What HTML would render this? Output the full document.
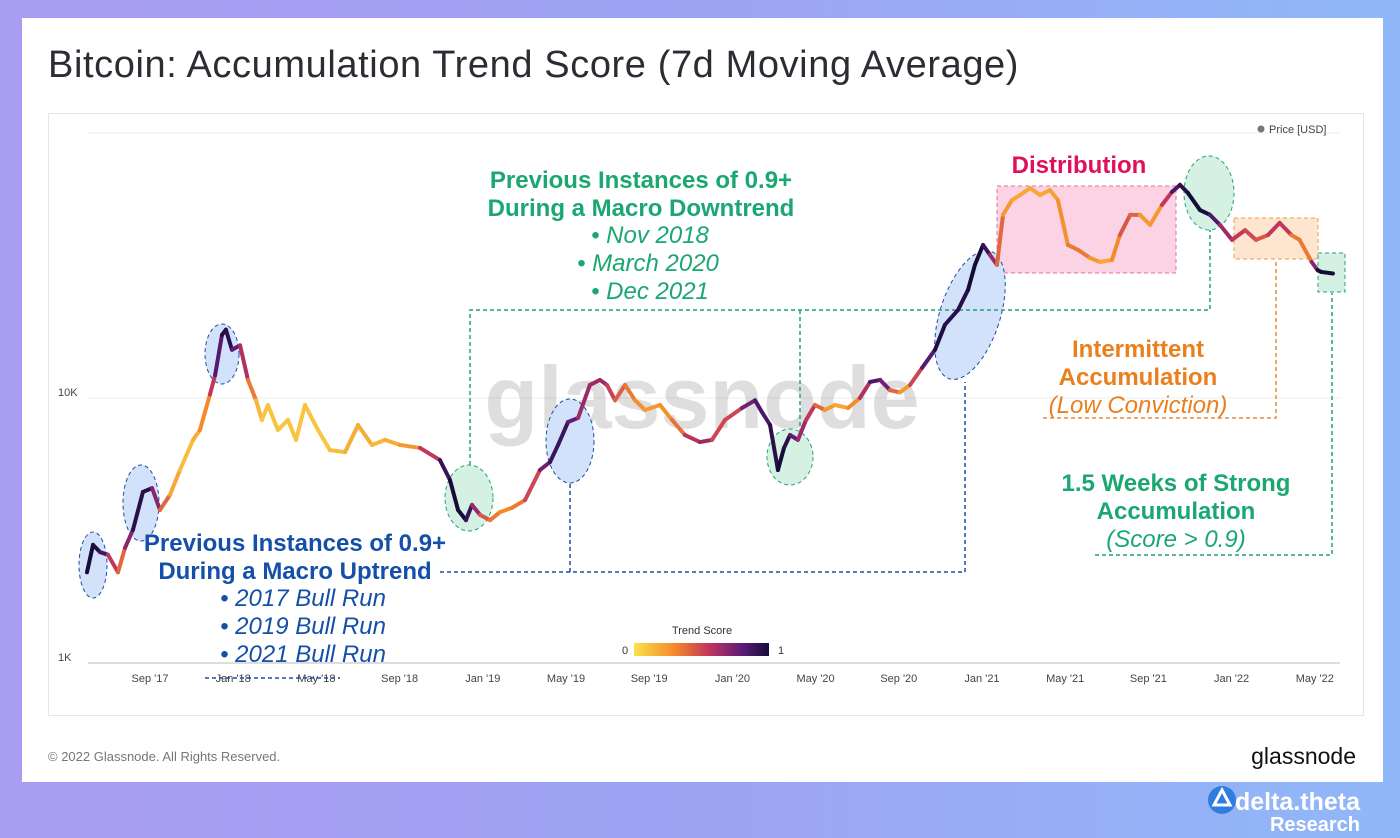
<!DOCTYPE html>
<html><head><meta charset="utf-8">
<style>
body{margin:0;width:1400px;height:838px;overflow:hidden;background:linear-gradient(90deg,#a99cf3 0%,#9ea3f4 50%,#90b8f8 100%);font-family:"Liberation Sans",sans-serif;}
#card{position:absolute;left:22px;top:18px;width:1361px;height:764px;background:#fff;}
svg{position:absolute;left:0;top:0;}
</style></head><body>
<div id="card"></div>
<svg id="chart" width="1400" height="838">
<text x="48" y="77" font-size="38" letter-spacing="0.6" fill="#2b2d33">Bitcoin: Accumulation Trend Score (7d Moving Average)</text>
<rect x="48.5" y="113.5" width="1315" height="602" fill="none" stroke="#e6e6e6"/>
<g id="grid"></g>
<text x="702" y="428" font-size="88" font-weight="bold" fill="#000" fill-opacity="0.13" text-anchor="middle">glassnode</text>
<g id="annot-back">
<rect x="997" y="186" width="179" height="87" fill="#fbd3e4" stroke="#e0709a" stroke-dasharray="4,3"/>
<rect x="1234" y="218" width="84" height="41" fill="#fde5d0" stroke="#ea9a55" stroke-dasharray="4,3"/>
<rect x="1318" y="253" width="27" height="39" fill="#d4f1e3" stroke="#27a07a" stroke-dasharray="4,3"/>
<ellipse cx="93" cy="565" rx="14" ry="33" fill="#d3e2fb" stroke="#1d4ea0" stroke-dasharray="4,3"/>
<ellipse cx="141" cy="503" rx="18" ry="38" fill="#d3e2fb" stroke="#1d4ea0" stroke-dasharray="4,3"/>
<ellipse cx="222" cy="354" rx="17" ry="30" fill="#d3e2fb" stroke="#1d4ea0" stroke-dasharray="4,3"/>
<ellipse cx="469" cy="498" rx="24" ry="33" fill="#d4f1e3" stroke="#27a07a" stroke-dasharray="4,3"/>
<ellipse cx="570" cy="441" rx="24" ry="42" fill="#d3e2fb" stroke="#1d4ea0" stroke-dasharray="4,3"/>
<ellipse cx="790" cy="457" rx="23" ry="28" fill="#d4f1e3" stroke="#27a07a" stroke-dasharray="4,3"/>
<ellipse cx="970" cy="315" rx="30" ry="67" transform="rotate(18 970 315)" fill="#d3e2fb" stroke="#1d4ea0" stroke-dasharray="4,3"/>
<ellipse cx="1209" cy="193" rx="25" ry="37" fill="#d4f1e3" stroke="#27a07a" stroke-dasharray="4,3"/>
</g>
<g fill="none" stroke-width="1.5" stroke-dasharray="4,3">
<path d="M470 465V310H1210V230M800 310V430" stroke="#27a07a"/>
<path d="M440 572H965V382M570 572V483" stroke="#1d4ea0"/>
<path d="M1043 418H1276V260" stroke="#ea8a3a"/>
<path d="M1095 555H1332V293" stroke="#27a07a"/>
<path d="M205 678H340" stroke="#1d4ea0"/>
</g>
<g id="series"></g>
<g font-size="24" text-anchor="middle">
<text x="641" y="188" font-weight="bold" fill="#1aa772"><tspan x="641">Previous Instances of 0.9+</tspan><tspan x="641" dy="28">During a Macro Downtrend</tspan></text>
<text x="650" y="243" font-style="italic" fill="#1aa772"><tspan x="650">• Nov 2018</tspan><tspan x="648" dy="28">• March 2020</tspan><tspan x="650" dy="28">• Dec 2021</tspan></text>
<text x="1079" y="173" font-weight="bold" fill="#e0105a">Distribution</text>
<text x="1138" y="357" font-weight="bold" fill="#ea7f1e"><tspan x="1138">Intermittent</tspan><tspan x="1138" dy="28">Accumulation</tspan></text>
<text x="1138" y="413" font-style="italic" fill="#ea7f1e">(Low Conviction)</text>
<text x="1176" y="491" font-weight="bold" fill="#1aa772"><tspan x="1176">1.5 Weeks of Strong</tspan><tspan x="1176" dy="28">Accumulation</tspan></text>
<text x="1176" y="547" font-style="italic" fill="#1aa772">(Score &gt; 0.9)</text>
<text x="295" y="551" font-weight="bold" fill="#1550a8"><tspan x="295">Previous Instances of 0.9+</tspan><tspan x="295" dy="28">During a Macro Uptrend</tspan></text>
<text x="303" y="606" font-style="italic" fill="#1550a8"><tspan x="303">• 2017 Bull Run</tspan><tspan x="303" dy="28">• 2019 Bull Run</tspan><tspan x="303" dy="28">• 2021 Bull Run</tspan></text>
</g>
<circle cx="1261" cy="129" r="3.5" fill="#777"/>
<text x="1269" y="133" font-size="11" fill="#444">Price [USD]</text>
<defs><linearGradient id="cb"><stop offset="0" stop-color="#fbe14a"/><stop offset="0.3" stop-color="#f48a2a"/><stop offset="0.55" stop-color="#c3365c"/><stop offset="0.8" stop-color="#5e1b78"/><stop offset="1" stop-color="#150d38"/></linearGradient></defs>
<text x="702" y="634" font-size="11" fill="#333" text-anchor="middle">Trend Score</text>
<rect x="634" y="643" width="135" height="13" fill="url(#cb)"/>
<text x="622" y="654" font-size="11" fill="#333">0</text>
<text x="778" y="654" font-size="11" fill="#333">1</text>
<text x="48" y="761" font-size="13" fill="#777">© 2022 Glassnode. All Rights Reserved.</text>
<text x="1356" y="764" font-size="23" fill="#111" text-anchor="end">glassnode</text>
<circle cx="1222" cy="800" r="14" fill="#2f7de0"/>
<path d="M1222 790l8 15h-16z" fill="none" stroke="#fff" stroke-width="3"/>
<text x="1360" y="810" font-size="25" font-weight="bold" fill="#fff" text-anchor="end">delta.theta</text>
<text x="1360" y="831" font-size="20" font-weight="bold" fill="#fff" text-anchor="end">Research</text>
</svg>
<script>
const tickLabels=["Sep '17","Jan '18","May '18","Sep '18","Jan '19","May '19","Sep '19","Jan '20","May '20","Sep '20","Jan '21","May '21","Sep '21","Jan '22","May '22"];
const tickMonths=[8,12,16,20,24,28,32,36,40,44,48,52,56,60,64];
const yTicks=[1000,10000,100000];
const yTickLabels=["1K","10K",""];
const months=[4.97,5.26,5.60,5.98,6.46,6.80,7.18,7.66,8.10,8.48,8.96,9.44,10.07,10.40,10.88,11.13,11.46,11.65,11.94,12.33,12.71,13.10,13.38,13.67,14.15,14.63,15.02,15.45,16.08,16.65,17.38,18.00,18.67,19.30,20.02,20.98,21.94,22.42,22.81,23.19,23.48,23.87,24.35,24.83,25.40,26.03,26.75,27.23,27.62,28.10,28.58,29.15,29.63,29.97,30.36,30.84,31.32,31.80,32.52,33.10,33.72,34.44,35.02,35.64,36.46,37.09,37.42,37.81,38.19,38.48,38.77,39.15,39.54,39.97,40.45,40.93,41.56,42.13,42.62,43.10,43.58,44.06,44.54,45.12,45.74,46.22,46.85,47.33,47.66,48.05,48.38,48.72,49.01,49.44,49.83,50.31,50.79,51.27,51.65,52.13,52.62,53.19,53.67,54.25,54.63,55.12,55.60,56.08,56.65,57.13,57.52,57.90,58.48,58.96,59.44,60.02,60.65,61.17,61.75,62.31,62.88,63.27,63.85,64.13,64.31,64.87];
const prices=[2.20,2.79,2.62,2.56,2.20,2.72,3.18,4.42,4.57,3.78,4.31,5.35,6.95,7.57,10.3,12.2,17.3,18.1,15.2,15.8,11.7,9.8,8.26,9.41,7.57,8.26,6.95,9.41,7.57,6.36,6.25,7.91,6.65,6.95,6.65,6.48,5.83,4.91,3.78,3.46,3.95,3.62,3.46,3.71,3.85,4.12,5.35,5.73,6.65,8.12,8.41,11.2,11.7,11.2,9.8,11.2,9.8,9.01,9.41,8.26,7.25,6.82,6.95,8.26,9.17,9.8,8.85,7.91,5.35,6.48,7.25,6.95,8.26,9.41,9.01,9.41,9.17,10.0,11.5,11.7,10.7,10.5,11.2,13.0,15.2,18.9,21.5,25.6,31.8,37.8,34.7,31.8,49.1,55.8,58.3,62.0,58.3,60.9,55.8,37.8,36.2,33.8,32.6,33.2,41.2,49.1,49.1,45.0,53.5,59.9,63.7,59.4,51.2,49.1,45.0,39.5,43.0,39.5,41.2,45.8,41.2,39.5,32.6,30.4,29.9,29.5];
const scores=[1,1,0.95,0.8,0.3,0.5,0.9,1,0.9,0.5,0.3,0.1,0.15,0.2,0.4,0.7,0.95,1,0.9,0.7,0.5,0.2,0.1,0.1,0.1,0.1,0.1,0.1,0.1,0.1,0.15,0.2,0.15,0.15,0.2,0.3,0.8,1,1,1,0.8,0.5,0.4,0.3,0.3,0.4,0.6,0.9,0.9,0.9,0.7,0.6,0.7,0.6,0.45,0.4,0.3,0.25,0.25,0.3,0.45,0.7,0.6,0.4,0.6,0.9,0.8,0.9,1,1,0.9,0.7,0.6,0.5,0.3,0.2,0.2,0.4,0.8,0.9,0.6,0.2,0.3,0.7,0.95,1,0.9,1,1,1,0.8,0.5,0.3,0.2,0.2,0.2,0.2,0.2,0.25,0.3,0.4,0.3,0.2,0.2,0.4,0.5,0.3,0.2,0.3,0.8,0.9,1,1,1,0.7,0.6,0.5,0.5,0.4,0.7,0.4,0.3,0.4,1,1,1];
const NS='http://www.w3.org/2000/svg';
function xs(m){return 150+(m-8)*20.8;}
function ys(p){return 663-265*Math.log10(p/1000);}
const stops=[[0,[251,225,74]],[0.3,[244,138,42]],[0.55,[195,54,92]],[0.8,[94,27,120]],[1,[21,13,56]]];
function col(s){for(let i=1;i<stops.length;i++){if(s<=stops[i][0]){const a=stops[i-1],b=stops[i],t=(s-a[0])/(b[0]-a[0]);return 'rgb('+a[1].map((v,k)=>Math.round(v+(b[1][k]-v)*t)).join(',')+')';}}return 'rgb(21,13,56)';}
const grid=document.getElementById('grid');
yTicks.forEach((v,i)=>{const l=document.createElementNS(NS,'line');


l.setAttribute('x1',88);l.setAttribute('x2',1340);l.setAttribute('y1',ys(v));l.setAttribute('y2',ys(v));l.setAttribute('stroke',i==0?'#ddd':'#eee');l.setAttribute('stroke-width',i==0?2:1);grid.appendChild(l);
if(yTickLabels[i]){const t=document.createElementNS(NS,'text');


t.setAttribute('x',58);t.setAttribute('y',ys(v)-2);t.setAttribute('font-size',11);t.setAttribute('fill','#444');t.textContent=yTickLabels[i];grid.appendChild(t);}});
tickMonths.forEach((m,i)=>{const t=document.createElementNS(NS,'text');


t.setAttribute('x',xs(m));t.setAttribute('y',682);t.setAttribute('font-size',11);t.setAttribute('fill','#444');t.setAttribute('text-anchor','middle');t.textContent=tickLabels[i];grid.appendChild(t);});
const g=document.getElementById('series');
const n=Math.min(months.length,prices.length,scores.length);
for(let i=1;i<n;i++){const l=document.createElementNS(NS,'line');


l.setAttribute('x1',xs(months[i-1]));l.setAttribute('y1',ys(prices[i-1]*1000));l.setAttribute('x2',xs(months[i]));l.setAttribute('y2',ys(prices[i]*1000));
l.setAttribute('stroke',col((scores[i-1]+scores[i])/2));l.setAttribute('stroke-width',4);l.setAttribute('stroke-linecap','round');g.appendChild(l);}
</script>
</body></html>
